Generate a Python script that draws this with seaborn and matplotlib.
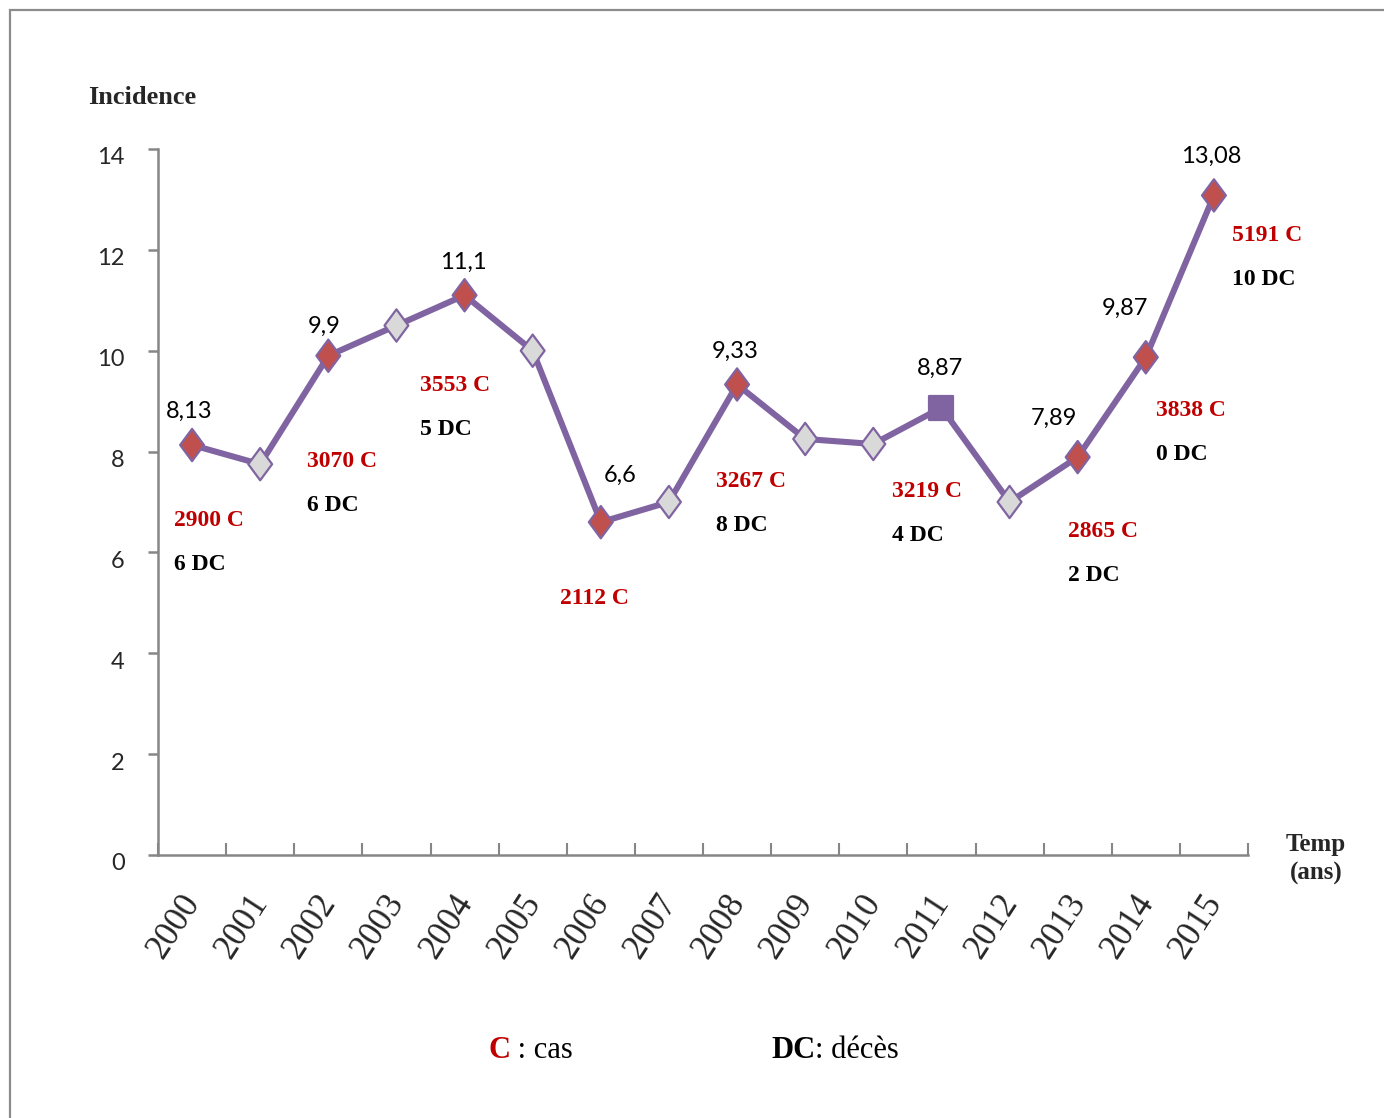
import numpy as np
import pandas as pd
import matplotlib
matplotlib.use("Agg")
import matplotlib.pyplot as plt
import matplotlib.transforms as mtransforms
from matplotlib.path import Path
from matplotlib.patches import Rectangle
from matplotlib.markers import MarkerStyle
import seaborn as sns

# ---- data -------------------------------------------------------------
years = [str(y) for y in range(2000, 2016)]
incidence = [8.13, 7.75, 9.9, 10.5, 11.1, 10.0, 6.6, 7.0,
             9.33, 8.25, 8.15, 8.87, 7.0, 7.89, 9.87, 13.08]
marker_kind = ["red", "grey", "red", "grey", "red", "grey", "red", "grey",
               "red", "grey", "grey", "square", "grey", "red", "red", "red"]

# years carrying a value label
labelled_years = ["2000", "2002", "2004", "2006", "2008", "2011", "2013", "2014", "2015"]
# cases / deaths annotations
cases = [2900, 3070, 3553, 2112, 3267, 3219, 2865, 3838, 5191]
deaths = [6, 6, 5, None, 8, 4, 2, 0, 10]

# ---- layout helpers (offsets in points, anchors in data units) ---------
value_offsets = [(-2, 24), (-3, 21), (-1, 24), (14, 34), (-1, 24),
                 (-1, 28), (-17, 28), (-15, 35), (-2, 28)]
case_anchor = [(-0.26, 6.64), (1.69, 7.81), (3.35, 9.32), (5.40, 5.08),
               (7.69, 7.40), (10.27, 7.20), (12.86, 6.42), (14.15, 8.82),
               (15.27, 12.29)]

LINE = "#8064A2"
RED_MK = "#C0504D"
GREY_MK = "#D9D9D9"
RED_TXT = "#C00000"
AXIS = "#868686"
SANS = "Lato"
SERIF = "Liberation Serif"

sns.set_style("white")
plt.rcParams["font.family"] = [SANS, "DejaVu Sans"]

df = pd.DataFrame({"year": years, "pos": np.arange(len(years)),
                   "incidence": incidence, "kind": marker_kind})

fig = plt.figure(figsize=(13.84, 11.18), dpi=100)
ax = fig.add_axes([158 / 1384, 1 - 855 / 1118, (1248 - 158) / 1384, (855 - 149) / 1118])

sns.lineplot(data=df, x="pos", y="incidence", color=LINE, linewidth=4.4,
             ax=ax, zorder=2)

diamond = MarkerStyle(Path([(0, 0.5), (0.37, 0), (0, -0.5), (-0.37, 0), (0, 0.5)],
                           [Path.MOVETO, Path.LINETO, Path.LINETO, Path.LINETO,
                            Path.CLOSEPOLY]))
sns.scatterplot(data=df, x="pos", y="incidence", hue="kind", style="kind",
                size="kind",
                palette={"red": RED_MK, "grey": GREY_MK, "square": LINE},
                markers={"red": diamond, "grey": diamond, "square": "s"},
                sizes={"red": 540, "grey": 540, "square": 300},
                edgecolor=LINE, linewidth=1.6, legend=False, ax=ax, zorder=3)

# value labels above selected points, drawn from the series values
for yr, (dx, dy) in zip(labelled_years, value_offsets):
    i = years.index(yr)
    v = incidence[i]
    ax.annotate(f"{v:g}".replace(".", ","), xy=(i, v), xytext=(dx, dy),
                textcoords="offset points", ha="center", va="center",
                fontsize=17, family=SANS, color="black", zorder=4)

# cases / deaths labels
for (cx, cy), c, d in zip(case_anchor, cases, deaths):
    ax.text(cx, cy, f"{c} C", ha="left", va="center", fontsize=17,
            family=SERIF, fontweight="bold", color=RED_TXT)
    if d is not None:
        ax.annotate(f"{d} DC", xy=(cx, cy), xytext=(0, -31.7),
                    textcoords="offset points", ha="left", va="center",
                    fontsize=17, family=SERIF, fontweight="bold", color="black")

# ---- axes styling ------------------------------------------------------
ax.set_xlim(-0.5, len(years) - 0.5)
ax.set_ylim(0, 14)
ax.set_yticks(np.arange(0, 15, 2))
ax.set_yticklabels([str(t) for t in range(0, 15, 2)], fontsize=17, family=SANS)
ax.set_xticks(np.arange(len(years)))
ax.set_xticks(np.arange(-0.5, len(years)), minor=True)
ax.set_xticklabels(years, rotation=57, ha="right", fontsize=25, family=SERIF)

ax.tick_params(axis="x", which="major", bottom=True, length=0, pad=24)
ax.tick_params(axis="x", which="minor", bottom=True, direction="in", length=8.6,
               width=1.5, color=AXIS)
ax.tick_params(axis="y", which="major", left=True, direction="out", length=7,
               width=1.8, color=AXIS, pad=17)

# nudge tick labels after tick_params so the offsets are kept
xshift = mtransforms.ScaledTranslation(15 / 100, 0, fig.dpi_scale_trans)
for lbl in ax.get_xticklabels():
    lbl.set_transform(lbl.get_transform() + xshift)
yshift = mtransforms.ScaledTranslation(0, -7 / 100, fig.dpi_scale_trans)
for lbl in ax.get_yticklabels():
    lbl.set_transform(lbl.get_transform() + yshift)

for side in ("top", "right"):
    ax.spines[side].set_visible(False)
for side in ("left", "bottom"):
    ax.spines[side].set_color(AXIS)
    ax.spines[side].set_linewidth(1.8)
ax.set_xlabel("")
ax.set_ylabel("")
ax.grid(False)

# axis titles
fig.text(88 / 1384, 1 - 97 / 1118, "Incidence", ha="left", va="center",
         fontsize=19, family=SERIF, fontweight="bold")
fig.text(1316 / 1384, 1 - 859 / 1118, "Temp\n(ans)", ha="center", va="center",
         fontsize=18, family=SERIF, fontweight="bold", linespacing=1.35)

# key at the bottom
key_y = 1 - 1050 / 1118
t1 = fig.text(488 / 1384, key_y, "C", ha="left", va="center",
              fontsize=22, family=SERIF, fontweight="bold", color=RED_TXT)
t2 = fig.text(771 / 1384, key_y, "DC", ha="left", va="center",
              fontsize=22, family=SERIF, fontweight="bold", color="black")
fig.canvas.draw()
r = fig.canvas.get_renderer()
for t, rest in ((t1, " : cas"), (t2, ": décès")):
    bb = t.get_window_extent(r)
    fig.text(bb.x1 / fig.bbox.width, key_y, rest, ha="left",
             va="center", fontsize=22, family=SERIF, color="black")

# outer frame
fig.add_artist(Rectangle((9.5 / 1384, -0.5), 2, 0.5 + 1 - 9.5 / 1118,
                         transform=fig.transFigure, fill=False,
                         edgecolor="#8C8C8C", linewidth=1.6))

fig.savefig("out.png", dpi=100)
